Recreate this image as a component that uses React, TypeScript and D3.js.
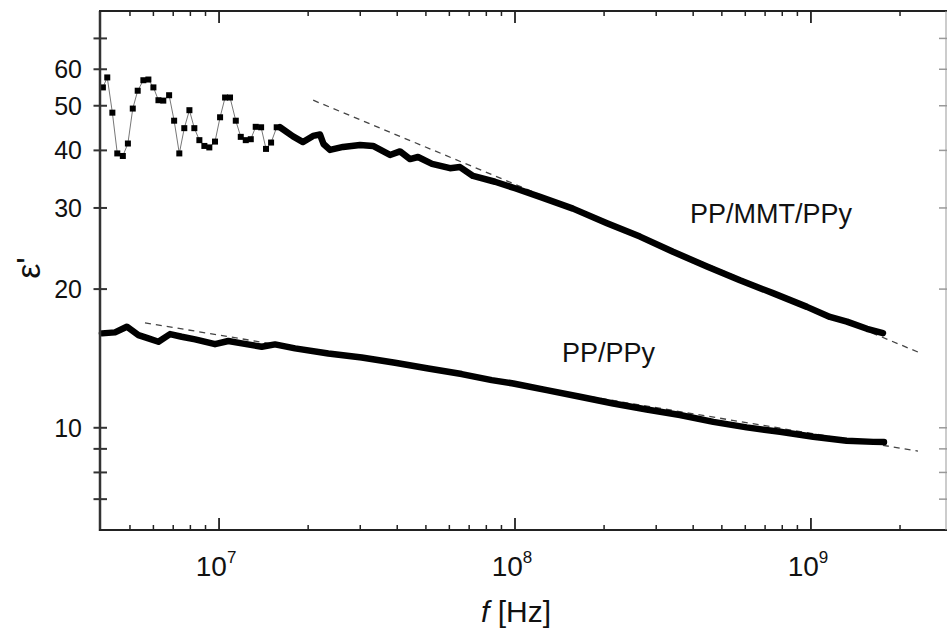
import React from 'react';
import * as d3 from 'd3';

const W = 947;
const H = 630;

// PP/MMT/PPy – discrete (marker) part, f in MHz
const upperMarkerFreqMHz = [
  4.05, 4.19, 4.36, 4.53, 4.73, 4.92, 5.11, 5.31, 5.55, 5.77, 6.0, 6.24, 6.48, 6.78, 7.05,
  7.34, 7.63, 7.94, 8.25, 8.58, 8.92, 9.27, 9.69, 10.08, 10.48, 10.89, 11.39, 11.84, 12.31,
  12.8, 13.3, 13.87, 14.41, 14.99, 15.66,
];
const upperMarkerEps = [
  54.8, 57.6, 48.3, 39.4, 38.9, 41.4, 49.3, 53.9, 56.8, 57.0, 54.8, 51.4, 51.3, 52.7, 46.4,
  39.4, 44.7, 48.9, 44.7, 42.1, 40.9, 40.6, 41.8, 47.2, 52.1, 52.1, 46.4, 42.8, 42.1,
  42.3, 45.0, 44.9, 40.3, 41.6, 44.9,
];

// PP/MMT/PPy – dense part
const upperDenseFreqMHz = [
  16.07, 17.78, 19.22, 20.78, 21.94, 22.54, 23.71, 26.24, 29.95, 33.14, 37.81, 40.88, 44.19,
  47.02, 52.44, 60.31, 65.19, 72.13, 85.58, 100, 121.5, 157.0, 204.6, 264.4, 341.9, 445.3,
  575.6, 743.9, 969.4, 1159, 1323, 1546, 1751,
];
const upperDenseEps = [
  44.9, 42.9, 41.7, 43.0, 43.3, 41.3, 40.1, 40.7, 41.1, 40.9, 39.1, 39.8, 38.3,
  38.7, 37.4, 36.6, 36.8, 35.2, 34.2, 33.1, 31.7, 29.9, 27.8, 26.0, 24.1, 22.4,
  20.9, 19.6, 18.3, 17.4, 17.0, 16.4, 16.05,
];

// PP/PPy
const lowerFreqMHz = [
  4.02, 4.45, 4.88, 5.34, 5.77, 6.24, 6.83, 7.48, 8.3, 9.69, 10.75, 11.93, 13.94, 15.46,
  18.06, 23.4, 30.35, 39.32, 50.94, 66.05, 83.43, 98.7, 128.0, 165.8, 214.8, 278.6, 360.9,
  467.8, 606.5, 785.8, 1018, 1320, 1624, 1765,
];
const lowerEps = [
  16.03, 16.11, 16.57, 15.89, 15.63, 15.37, 15.97, 15.76, 15.56, 15.19, 15.43, 15.25, 14.99,
  15.17, 14.87, 14.5, 14.21, 13.84, 13.45, 13.08, 12.69, 12.48, 12.07, 11.68, 11.29, 10.96,
  10.66, 10.3, 10.02, 9.8, 9.56, 9.37, 9.32, 9.31,
];

// power-law fits (dashed)
const fitUpperFreqMHz = [20.8, 2300];
const fitUpperEps = [51.4, 14.6];
const fitLowerFreqMHz = [5.62, 2300];
const fitLowerEps = [16.9, 8.9];

const xMajorTicks = [1e7, 1e8, 1e9];
const xMajorExponents = ['7', '8', '9'];
const yLabeledTicks = [10, 20, 30, 40, 50, 60];
const yMinorTicks = [7, 8, 9, 70];
const seriesNames = ['PP/MMT/PPy', 'PP/PPy'];

const FONT = "'Liberation Sans', Arial, Helvetica, sans-serif";

export default function App() {
  const left = 100;
  const right = 946;
  const top = 11;
  const bottom = 530;

  const x = d3.scaleLog().domain([3.96e6, 2.86e9]).range([left, right]);
  const y = d3.scaleLog().domain([6, 80]).range([bottom, 11.7]);

  const toPts = (fs: number[], es: number[]) =>
    fs.map((f, i) => [f * 1e6, es[i]] as [number, number]);

  const line = d3
    .line<[number, number]>()
    .x((d) => x(d[0]))
    .y((d) => y(d[1]));

  const markerPts = toPts(upperMarkerFreqMHz, upperMarkerEps);
  const densePts = toPts(upperDenseFreqMHz, upperDenseEps);
  const lowerPts = toPts(lowerFreqMHz, lowerEps);
  const fitU = toPts(fitUpperFreqMHz, fitUpperEps);
  const fitL = toPts(fitLowerFreqMHz, fitLowerEps);

  // minor x ticks: 2..9 x 10^n within domain
  const xMinor: number[] = [];
  for (let p = 6; p <= 9; p++) {
    for (let m = 2; m <= 9; m++) {
      const v = m * Math.pow(10, p);
      if (v > 4.2e6 && v < 2.86e9) xMinor.push(v);
    }
  }

  const axisColor = '#222';
  const yTicksAll = [...yLabeledTicks, ...yMinorTicks];

  return (
    <svg
      width={W}
      height={H}
      style={{ position: 'absolute', left: 0, top: 0, background: '#fff' }}
      fontFamily={FONT}
    >
      <rect x={0} y={0} width={W} height={H} fill="#fff" />

      {/* dashed fits */}
      <path d={line(fitU) || ''} fill="none" stroke="#444" strokeWidth={1.3} strokeDasharray="6,5" />
      <path d={line(fitL) || ''} fill="none" stroke="#444" strokeWidth={1.3} strokeDasharray="6,5" />

      {/* upper series: thin connecting line + squares */}
      <path
        d={line([...markerPts, densePts[0]]) || ''}
        fill="none"
        stroke="#777"
        strokeWidth={1}
      />
      {markerPts.map((d, i) => (
        <rect key={i} x={x(d[0]) - 3} y={y(d[1]) - 3} width={6} height={6} fill="#000" />
      ))}
      <path
        d={line(densePts) || ''}
        fill="none"
        stroke="#000"
        strokeWidth={6.5}
        strokeLinejoin="round"
        strokeLinecap="round"
      />

      {/* lower series */}
      <path
        d={line(lowerPts) || ''}
        fill="none"
        stroke="#000"
        strokeWidth={6.5}
        strokeLinejoin="round"
        strokeLinecap="round"
      />

      {/* frame */}
      <line x1={left} y1={top} x2={left} y2={bottom + 1} stroke="#333" strokeWidth={2.5} />
      <line x1={left - 1} y1={bottom} x2={W} y2={bottom} stroke={axisColor} strokeWidth={2} />
      <line x1={left - 1} y1={top} x2={W} y2={top} stroke={axisColor} strokeWidth={2} />
      <line x1={right} y1={top} x2={right} y2={bottom} stroke="#999" strokeWidth={1} />

      {/* y ticks (crossing) */}
      {yTicksAll.map((v) => (
        <g key={'y' + v}>
          <line x1={left - 6.5} x2={left + 7} y1={y(v)} y2={y(v)} stroke="#333" strokeWidth={2} />
          <line x1={right - 7} x2={right + 6} y1={y(v)} y2={y(v)} stroke="#999" strokeWidth={1.5} />
        </g>
      ))}
      {yLabeledTicks.map((v) => (
        <text
          key={'yl' + v}
          x={82}
          y={y(v) + 9}
          textAnchor="end"
          fontSize={25}
          fill="#111"
        >
          {v}
        </text>
      ))}

      {/* x ticks */}
      {xMajorTicks.map((v) => (
        <g key={'xm' + v}>
          <line x1={x(v)} x2={x(v)} y1={bottom} y2={bottom - 12} stroke={axisColor} strokeWidth={1.8} />
          <line x1={x(v)} x2={x(v)} y1={top} y2={top + 12} stroke={axisColor} strokeWidth={1.8} />
        </g>
      ))}
      {xMinor.map((v) => (
        <g key={'xn' + v}>
          <line x1={x(v)} x2={x(v)} y1={bottom} y2={bottom - 5} stroke={axisColor} strokeWidth={1.5} />
          <line x1={x(v)} x2={x(v)} y1={top} y2={top + 5} stroke={axisColor} strokeWidth={1.5} />
        </g>
      ))}
      {xMajorTicks.map((v, i) => (
        <text key={'xl' + v} x={x(v) - 3} y={576} textAnchor="middle" fontSize={28} fill="#111">
          10
          <tspan dy={-13} fontSize={17}>
            {xMajorExponents[i]}
          </tspan>
        </text>
      ))}

      {/* axis titles */}
      <text x={516} y={622} textAnchor="middle" fontSize={30} fill="#111">
        <tspan fontStyle="italic">f</tspan> [Hz]
      </text>
      <text
        transform="translate(40,268) rotate(-90)"
        textAnchor="middle"
        fontSize={34}
        fill="#111"
      >
        ε'
      </text>

      {/* series labels */}
      <text x={690} y={223} fontSize={27} fill="#111">
        {seriesNames[0]}
      </text>
      <text x={562} y={362} fontSize={27} fill="#111">
        {seriesNames[1]}
      </text>
    </svg>
  );
}
